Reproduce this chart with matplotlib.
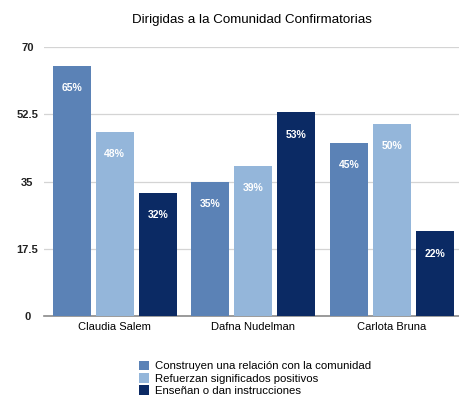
import numpy as np
import matplotlib.pyplot as plt

plt.rcParams['font.family'] = ['Liberation Sans', 'DejaVu Sans']

people = ["Claudia Salem", "Dafna Nudelman", "Carlota Bruna"]
series_names = ["Construyen una relación con la comunidad",
                "Refuerzan significados positivos",
                "Enseñan o dan instrucciones"]
construyen = [65, 35, 45]
refuerzan = [48, 39, 50]
ensenan = [32, 53, 22]
y_ticks = [0, 17.5, 35, 52.5, 70]

colors = ['#5b82b6', '#94b6da', '#0b2a64']

fig = plt.figure(figsize=(4.6, 3.95), dpi=100)
ax = fig.add_axes([44 / 460, 79 / 395, 416 / 460, 269 / 395])

x = np.arange(len(people))
width = 0.275
step = 0.31
for i, (vals, name) in enumerate(zip([construyen, refuerzan, ensenan], series_names)):
    pos = x + (i - 1) * step
    bars = ax.bar(pos, vals, width, color=colors[i], label=name, zorder=3)
    for b, v in zip(bars, vals):
        ax.annotate(f"{v}%", (b.get_x() + b.get_width() / 2, v),
                    xytext=(0, -16), textcoords='offset points',
                    ha='center', va='center', color='white',
                    fontsize=7.5, fontweight='bold', zorder=4)

ax.set_xlim(-0.51, 2.49)
ax.set_ylim(0, 70)
ax.set_yticks(y_ticks)
ax.set_yticklabels(["0", "17.5", "35", "52.5", "70"], fontsize=8, fontweight='bold', ha='center')
ax.tick_params(axis='y', length=0, pad=12, labelcolor='#222222')
ax.set_xticks(x)
ax.set_xticklabels(people, fontsize=8)
ax.tick_params(axis='x', length=0, pad=4)
ax.grid(axis='y', color='#d4d4d4', linewidth=0.9, zorder=0)
for s in ['top', 'right', 'left']:
    ax.spines[s].set_visible(False)
ax.spines['bottom'].set_color('#8a8a8a')
ax.spines['bottom'].set_linewidth(1.2)

ax.set_title("Dirigidas a la Comunidad Confirmatorias", fontsize=9.6, pad=17)

fig.legend(loc='upper left', bbox_to_anchor=(133 / 460, 1 - 355 / 395),
           frameon=False, fontsize=8.2, handlelength=0.9, handleheight=0.9,
           handletextpad=0.5, labelspacing=0.15, borderpad=0)

fig.savefig("out.png", dpi=100)
